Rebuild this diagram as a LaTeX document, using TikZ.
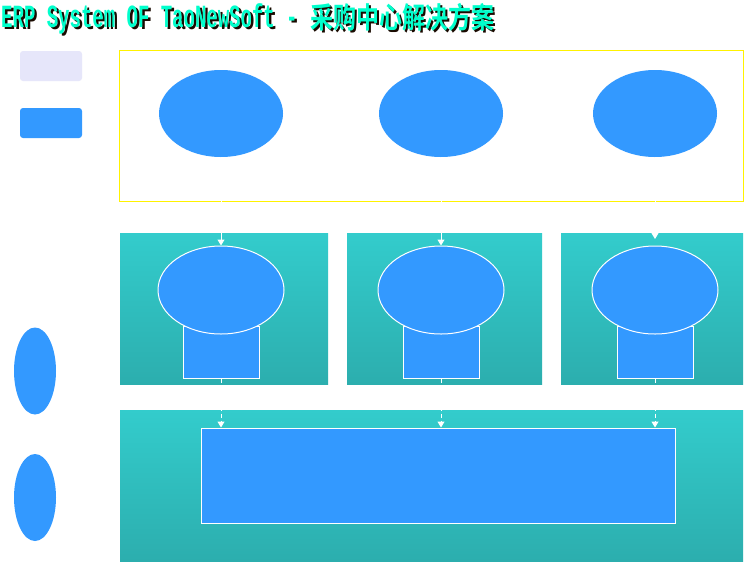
\documentclass[tikz,border=0pt]{standalone}
\usepackage{fontspec}
\newfontfamily\latinmono{Liberation Mono}[BoldFont={* Bold}]
\newfontfamily\cjk{Noto Sans CJK SC}[BoldFont={* Bold}]
\usetikzlibrary{shapes.geometric,arrows.meta}
\definecolor{eblue}{HTML}{3399FF}
\definecolor{lav}{HTML}{E6E6FA}
\definecolor{tealtop}{HTML}{33CCCC}
\definecolor{tealbot}{HTML}{2CAEAE}
\definecolor{titlecyan}{HTML}{00FFCC}
\definecolor{shadow}{HTML}{1A0A00}
\begin{document}
\begin{tikzpicture}[x=1pt,y=-1pt,
  panel/.style={rectangle,inner sep=0,top color=tealtop,bottom color=tealbot,draw=none},
  blob/.style={ellipse,inner sep=0,fill=eblue,draw=none},
  wblob/.style={ellipse,inner sep=0,fill=eblue,draw=white,line width=1pt},
  wbox/.style={rectangle,inner sep=0,fill=eblue,draw=white,line width=1pt},
  legend/.style={rectangle,rounded corners=3pt,inner sep=0,minimum width=62pt,minimum height=30pt},
  arr/.style={draw=white,line width=1pt,-{Triangle[width=7pt,length=6pt]}},
  darr/.style={arr,dash pattern=on 4pt off 3pt},
  tlat/.style={anchor=base west,inner sep=0,font=\latinmono\bfseries\fontsize{19}{19}\selectfont,yscale=1.7,transform shape},
  tcjk/.style={anchor=base west,inner sep=0,font=\cjk\bfseries\fontsize{23}{23}\selectfont,yscale=1.27,transform shape}
]
\useasboundingbox[fill=white] (0,0) rectangle (746,563);
% title: dark drop shadow, then the cyan text
\node[tlat,text=shadow] (tls) at (3.5,29.5) {ERP System OF TaoNewSoft -};
\node[tcjk,text=shadow] (tcs) at (312.5,30.5) {采购中心解决方案};
\node[tlat,text=titlecyan] (tl) at (1,27) {ERP System OF TaoNewSoft -};
\node[tcjk,text=titlecyan] (tc) at (310,28) {采购中心解决方案};
% legend
\node[legend,fill=lav] (lg1) at (51,66) {};
\node[legend,fill=eblue] (lg2) at (51,123) {};
\node[blob,minimum width=42pt,minimum height=87pt] (lv1) at (35,371) {};
\node[blob,minimum width=42pt,minimum height=87pt] (lv2) at (35,497.5) {};
% top frame
\node[rectangle,draw=yellow,line width=1pt,inner sep=0,minimum width=624pt,minimum height=151pt] (frame) at (431.5,126) {};
\node[blob,minimum width=124pt,minimum height=87pt] (t1) at (221,113.5) {};
\node[blob,minimum width=124pt,minimum height=87pt] (t2) at (441,113.5) {};
\node[blob,minimum width=124pt,minimum height=87pt] (t3) at (655,113.5) {};
% middle panels
\node[panel,minimum width=208pt,minimum height=151pt] (p1) at (224,308.5) {};
\node[panel,minimum width=195pt,minimum height=151pt] (p2) at (444.5,308.5) {};
\node[panel,minimum width=182pt,minimum height=151pt] (p3) at (652,308.5) {};
\node[wbox,minimum width=76pt,minimum height=52pt] (r1) at (221,352) {};
\node[wbox,minimum width=76pt,minimum height=52pt] (r2) at (441,352) {};
\node[wbox,minimum width=76pt,minimum height=52pt] (r3) at (655,352) {};
\node[wblob,minimum width=126pt,minimum height=88pt] (m1) at (221,290) {};
\node[wblob,minimum width=126pt,minimum height=88pt] (m2) at (441,290) {};
\node[wblob,minimum width=126pt,minimum height=88pt] (m3) at (655,290) {};
% bottom panel
\node[panel,minimum width=623pt,minimum height=151pt] (pb) at (431.5,485.5) {};
\node[wbox,minimum width=474pt,minimum height=95pt] (big) at (438,475.5) {};
% connectors
\coordinate (c3) at (655,239);
\draw[arr] (t1.south) -- (m1.north);
\draw[arr] (t2.south) -- (m2.north);
\draw[arr] (t3.south) -- (c3);
\draw[darr] (r1.south) -- (r1.south |- big.north);
\draw[darr] (r2.south) -- (r2.south |- big.north);
\draw[darr] (r3.south) -- (r3.south |- big.north);
\end{tikzpicture}
\end{document}
